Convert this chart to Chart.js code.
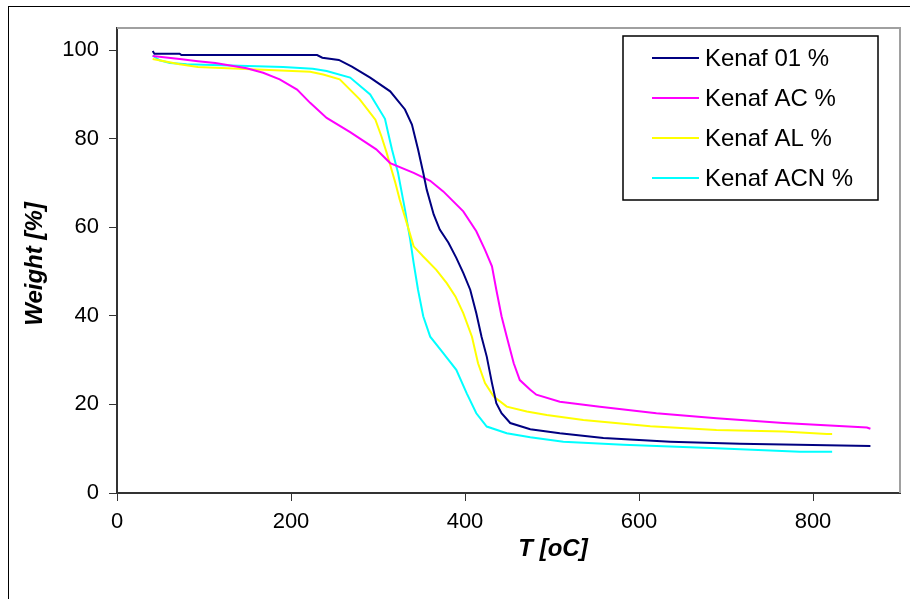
<!DOCTYPE html>
<html>
<head>
<meta charset="utf-8">
<title>Kenaf TGA</title>
<script src="https://cdn.jsdelivr.net/npm/chart.js@4.4.1/dist/chart.umd.min.js"></script>
<style>
  html, body { margin: 0; padding: 0; background: #fff; }
  #wrap { width: 910px; height: 599px; }
</style>
</head>
<body>
<div id="wrap"><canvas id="tga" width="910" height="599"></canvas></div>
<script>
// TGA curves of kenaf fibres, weight [%] vs temperature [oC].
// Points.

const seriesNames = ["Kenaf 01 %", "Kenaf AC %", "Kenaf AL %", "Kenaf ACN %"];
const seriesColors = ["#000080", "#ff00ff", "#ffff00", "#00ffff"];

const temp01 = [41, 43, 72, 74, 230, 236, 255, 270, 291, 314, 331, 339, 346, 352, 356, 364, 371, 381, 390, 398, 406, 413, 419, 425, 431, 436, 442, 452, 475, 509, 559, 636, 716, 866];
const weight01 = [99.8, 99.2, 99.2, 98.9, 98.9, 98.3, 97.8, 96.3, 93.8, 90.7, 86.6, 83.2, 77.6, 72.3, 68.5, 62.9, 59.5, 56.5, 53.1, 49.7, 45.9, 40.6, 35.3, 30.8, 24.8, 20.3, 18.0, 15.8, 14.4, 13.5, 12.4, 11.6, 11.1, 10.6];

const tempAC = [41, 72, 93, 113, 149, 168, 187, 207, 222, 241, 268, 298, 314, 341, 360, 375, 398, 413, 423, 431, 436, 442, 448, 456, 463, 475, 482, 509, 555, 620, 689, 766, 862, 866];
const weightAC = [98.7, 98.0, 97.5, 97.1, 95.9, 94.9, 93.4, 91.1, 88.1, 84.7, 81.5, 77.6, 74.5, 72.3, 70.5, 68.1, 63.6, 59.1, 54.9, 51.2, 45.9, 39.9, 35.3, 29.3, 25.5, 23.3, 22.2, 20.6, 19.5, 18.0, 16.9, 15.8, 14.8, 14.5];

const tempAL = [41, 72, 93, 168, 222, 237, 256, 279, 297, 304, 310, 320, 325, 333, 341, 352, 367, 379, 389, 398, 408, 415, 423, 433, 448, 471, 494, 536, 613, 689, 766, 816, 822];
const weightAL = [98.0, 96.8, 96.2, 95.6, 95.1, 94.5, 93.4, 88.9, 84.3, 80.5, 76.8, 70.0, 66.2, 61.0, 55.7, 53.4, 50.4, 47.4, 44.4, 40.6, 35.3, 29.3, 24.8, 21.8, 19.5, 18.4, 17.6, 16.5, 15.1, 14.2, 13.9, 13.3, 13.3];

const tempACN = [41, 49, 61, 80, 191, 225, 241, 268, 291, 308, 312, 316, 323, 331, 337, 341, 346, 352, 360, 375, 390, 402, 413, 425, 448, 475, 513, 582, 689, 785, 822];
const weightACN = [98.8, 97.7, 97.1, 96.8, 96.2, 95.8, 95.3, 93.8, 90.0, 84.5, 81.0, 77.6, 72.3, 64.0, 57.2, 51.9, 45.9, 39.9, 35.3, 31.6, 27.8, 22.5, 18.0, 15.0, 13.5, 12.6, 11.6, 10.9, 10.1, 9.3, 9.3];

const xTicks = [0, 200, 400, 600, 800];
const yTicks = [0, 20, 40, 60, 80, 100];

const FONT = "'Liberation Sans', Arial, sans-serif";

function toPoints(xs, ys) {
  return xs.map((x, i) => ({ x: x, y: ys[i] }));
}

const seriesData = [
  toPoints(temp01, weight01),
  toPoints(tempAC, weightAC),
  toPoints(tempAL, weightAL),
  toPoints(tempACN, weightACN),
];

// Outer frame, plot area frame, axis titles and the boxed legend
// sitting inside the plot (Excel style) are drawn here.
const decorations = {
  id: "decorations",
  beforeDraw(chart) {
    const ctx = chart.ctx;
    ctx.save();
    ctx.strokeStyle = "#000";
    ctx.lineWidth = 1;
    ctx.strokeRect(8.5, 6.5, 1000, 1000);
    ctx.restore();
  },
  afterDatasetsDraw(chart) {
    const ctx = chart.ctx;
    const a = chart.chartArea;
    ctx.save();

    // grey top/right edges of the plot area
    ctx.strokeStyle = "#a0a0a0";
    ctx.lineWidth = 2;
    ctx.beginPath();
    ctx.moveTo(a.left, a.top);
    ctx.lineTo(a.right, a.top);
    ctx.lineTo(a.right, a.bottom);
    ctx.stroke();

    // axis titles
    ctx.fillStyle = "#000";
    ctx.font = "italic bold 24px " + FONT;
    ctx.textAlign = "center";
    ctx.textBaseline = "middle";
    ctx.fillText("T [oC]", 553, 549);
    ctx.translate(35, 264);
    ctx.rotate(-Math.PI / 2);
    ctx.fillText("Weight [%]", 0, 0);
    ctx.setTransform(1, 0, 0, 1, 0, 0);

    // legend box
    ctx.fillStyle = "#fff";
    ctx.fillRect(623, 36, 255, 164);
    ctx.strokeStyle = "#000";
    ctx.lineWidth = 1.5;
    ctx.strokeRect(623, 36, 255, 164);
    ctx.font = "24px " + FONT;
    ctx.textAlign = "left";
    ctx.textBaseline = "middle";
    seriesNames.forEach((name, i) => {
      const y = 58 + i * 40;
      ctx.strokeStyle = seriesColors[i];
      ctx.lineWidth = 2;
      ctx.beginPath();
      ctx.moveTo(652, y);
      ctx.lineTo(699, y);
      ctx.stroke();
      ctx.fillStyle = "#000";
      ctx.fillText(name, 705, y + 1);
    });
    ctx.restore();
  },
};

new Chart(document.getElementById("tga"), {
  type: "line",
  data: {
    datasets: seriesNames.map((name, i) => ({
      label: name,
      data: seriesData[i],
      borderColor: seriesColors[i],
      backgroundColor: seriesColors[i],
      borderWidth: 2,
      pointRadius: 0,
      tension: 0,
      fill: false,
    })),
  },
  options: {
    responsive: false,
    animation: false,
    layout: { padding: { top: 28, right: 10, left: 0, bottom: 0 } },
    plugins: {
      legend: { display: false },
      tooltip: { enabled: false },
    },
    scales: {
      x: {
        type: "linear",
        min: 0,
        max: 900,
        afterBuildTicks: (s) => { s.ticks = xTicks.map((v) => ({ value: v })); },
        afterFit: (s) => { s.height = 106; },
        grid: { drawOnChartArea: false, drawTicks: true, tickLength: 8, color: "#333" },
        border: { color: "#333", width: 2 },
        ticks: { color: "#000", padding: 8, maxRotation: 0, font: { family: FONT, size: 22 } },
      },
      y: {
        min: 0,
        max: 105,
        afterBuildTicks: (s) => { s.ticks = yTicks.map((v) => ({ value: v })); },
        afterFit: (s) => { s.width = 117; },
        grid: { drawOnChartArea: false, drawTicks: true, tickLength: 8, color: "#333" },
        border: { color: "#333", width: 2 },
        ticks: { color: "#000", padding: 10, font: { family: FONT, size: 22 } },
      },
    },
  },
  plugins: [decorations],
});
</script>
</body>
</html>
